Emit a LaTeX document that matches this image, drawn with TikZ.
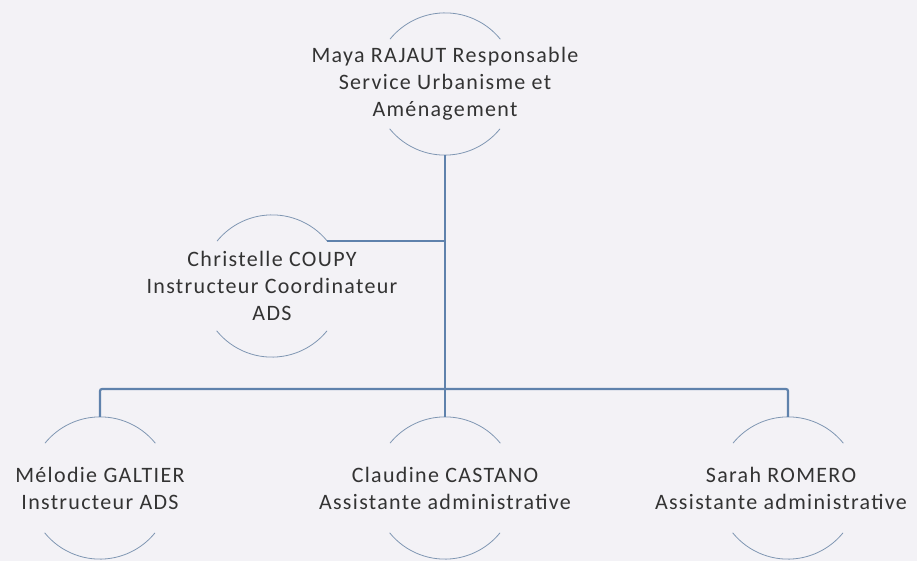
\documentclass[tikz,border=0pt]{standalone}
\usepackage{fontspec}
\setmainfont{Carlito}[LetterSpace=6]
\usetikzlibrary{calc}
\definecolor{bg}{HTML}{F3F2F6}
\definecolor{conn}{HTML}{5F82AC}
\definecolor{arcc}{HTML}{7F96B2}
\definecolor{txt}{HTML}{333333}
\tikzset{
  person/.style={circle, minimum size=142pt, inner sep=0pt, draw=none},
  who/.style={align=center, text=txt, font=\fontsize{22}{27}\selectfont, inner sep=0pt},
  rim/.style={draw=arcc, line width=0.8pt},
  link/.style={draw=conn, line width=2.2pt, rounded corners=2pt},
}
\newcommand{\rims}[1]{%
  \draw[rim] (#1.39) arc[start angle=39, end angle=141, radius=71pt];
  \draw[rim] (#1.219) arc[start angle=219, end angle=321, radius=71pt];}
\begin{document}
\begin{tikzpicture}[x=1pt,y=-1pt]
\fill[bg] (0,0) rectangle (917,561);
\useasboundingbox (0,0) rectangle (917,561);
\node[person] (m) at (445,84) {};
\node[who] (mt) at (m.center) {Maya RAJAUT Responsable\\Service Urbanisme et\\Aménagement};
\node[person] (c) at (272,286) {};
\node[who] (ct) at (c.center) {Christelle COUPY\\Instructeur Coordinateur\\ADS};
\node[person] (l) at (100,488) {};
\node[who] (lt) at (l.center) {Mélodie GALTIER\\Instructeur ADS};
\node[person] (cc) at (445,488) {};
\node[who] (cct) at (cc.center) {Claudine CASTANO\\Assistante administrative};
\node[person] (r) at (788,488) {};
\node[who] (rt) at (781,488) {Sarah ROMERO\\Assistante administrative};
\coordinate (bus) at (445,389);
\rims{m}\rims{c}\rims{l}\rims{cc}\rims{r}
\draw[link] (m.south) -- (cc.north);
\draw[link] (c.39) -- (c.39 -| m.south);
\draw[link] (l.north) |- (bus) -| (r.north);
\end{tikzpicture}
\end{document}
